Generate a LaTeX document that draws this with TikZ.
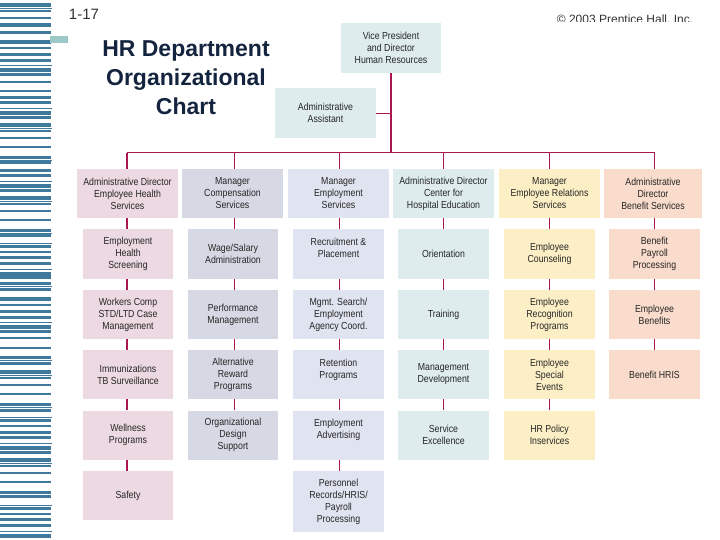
\documentclass[tikz,border=0pt]{standalone}
\usepackage{fontspec}
\setmainfont{Liberation Sans}
\newfontfamily\labfont[FakeStretch=0.86]{Liberation Sans}
\definecolor{barcol}{HTML}{3F7A9C}
\definecolor{tealtab}{HTML}{9CC8C8}
\definecolor{linecol}{HTML}{A8174F}
\definecolor{titlecol}{HTML}{14243F}
\definecolor{fillA}{HTML}{ECD9E1}
\definecolor{fillB}{HTML}{D6D9E4}
\definecolor{fillC}{HTML}{E0E4F0}
\definecolor{fillD}{HTML}{DEECEE}
\definecolor{fillE}{HTML}{FDEFC5}
\definecolor{fillF}{HTML}{F9DCCB}
\tikzset{
  bx/.style={inner sep=0pt,align=center,font=\labfont\fontsize{10.2}{12}\selectfont,text=black!85},
  headbox/.style={bx,minimum width=101,minimum height=49},
  childbox/.style={bx,minimum width=91,minimum height=49},
  cA/.style={fill=fillA},cB/.style={fill=fillB},cC/.style={fill=fillC},
  cD/.style={fill=fillD},cE/.style={fill=fillE},cF/.style={fill=fillF},
  thickline/.style={draw=linecol,line width=2pt},
  thinline/.style={draw=linecol,line width=1pt},
  bar/.style={fill=barcol,draw=none},
  thinbar/.style={draw=barcol,line width=0.9pt}
}
\begin{document}
\begin{tikzpicture}[x=1pt,y=-1pt]
\useasboundingbox (0,0) rectangle (720,540);
% left strip of bars
\foreach \a/\b in {3/7,10/12,17/19,23/27,31/34,40/44,47/49,53/56,59/62,68/72,73/76,81/83,90/92,96/99,101/104,111/115,116/119,123/127,130/132,137/139,146/148,156/159,161/164,169/172,174/177,184/188,189/192,196/200,203/205,210/212,219/221,229/232,233/237,245/248,251/253,256/259,262/265,272/279,282/285,288/291,297/301,304/306,310/313,316/319,325/329,330/333,337/339,347/349,356/359,362/365,370/374,377/379,384/386,393/395,403/406,409/412,419/422,425/427,431/434,436/439,446/450,451/454,458/462,465/467,472/474,481/483,491/494,495/498,507/510,513/515,518/521,524/527,534/538}
  \fill[bar] (0,\a) rectangle (51,\b);
\foreach \a in {8,65,108,128,160,181,201,233,243,269,286,322,360,375,407,417,443,463,505,531}
  \draw[thinbar] (0,\a) -- (52,\a);
\fill[tealtab] (50,36) rectangle (68,43);
% headings
\node[anchor=center,inner sep=0pt,font=\fontsize{15}{15}\selectfont,text=black!80] (pg) at (84,14) {1-17};
\node[inner sep=0pt,align=center,font=\bfseries\fontsize{23}{29}\selectfont,text=titlecol] (title) at (186,77.5) {HR Department\\Organizational\\Chart};
\begin{scope}
  \clip (540,0) rectangle (720,21.5);
  \node[inner sep=0pt,anchor=center,font=\fontsize{12}{14}\selectfont,text=black!80] (copy) at (625,20) {© 2003 Prentice Hall, Inc.};
\end{scope}
% top
\node[bx,cD,minimum width=100,minimum height=50] (vp) at (391,48) {Vice President\\and Director\\Human Resources};
\node[bx,cD,minimum width=101,minimum height=50] (asst) at (325.5,113) {Administrative\\Assistant};
% heads
\node[headbox,cA] (h1) at (127.5,193.5) {Administrative Director\\Employee Health\\Services};
\node[headbox,cB] (h2) at (232.5,193.5) {Manager\\Compensation\\Services};
\node[headbox,cC] (h3) at (338.5,193.5) {Manager\\Employment\\Services};
\node[headbox,cD] (h4) at (443.5,193.5) {Administrative Director\\Center for\\Hospital Education};
\node[headbox,cE] (h5) at (549.5,193.5) {Manager\\Employee Relations\\Services};
\node[headbox,cF,minimum width=98] (h6) at (653,193.5) {Administrative\\Director\\Benefit Services};
% column 1
\node[childbox,cA,minimum width=90,minimum height=50] (a1) at (128,254) {Employment\\Health\\Screening};
\node[childbox,cA,minimum width=90] (a2) at (128,314.5) {Workers Comp\\STD/LTD Case\\Management};
\node[childbox,cA,minimum width=90] (a3) at (128,374.5) {Immunizations\\TB Surveillance};
\node[childbox,cA,minimum width=90] (a4) at (128,435) {Wellness\\Programs};
\node[childbox,cA,minimum width=90] (a5) at (128,495.5) {Safety};
% column 2
\node[childbox,cB,minimum width=90,minimum height=50] (b1) at (233,254) {Wage/Salary\\Administration};
\node[childbox,cB,minimum width=90] (b2) at (233,314.5) {Performance\\Management};
\node[childbox,cB,minimum width=90] (b3) at (233,374.5) {Alternative\\Reward\\Programs};
\node[childbox,cB,minimum width=90] (b4) at (233,435) {Organizational\\Design\\Support};
% column 3
\node[childbox,cC,minimum height=50] (c1) at (338.5,254) {Recruitment \&\\Placement\\\mbox{}};
\node[childbox,cC] (c2) at (338.5,314.5) {Mgmt. Search/\\Employment\\Agency Coord.};
\node[childbox,cC] (c3) at (338.5,374.5) {Retention\\Programs\\\mbox{}};
\node[childbox,cC] (c4) at (338.5,435) {Employment\\Advertising\\\mbox{}};
\node[childbox,cC,minimum height=61] (c5) at (338.5,501.5) {Personnel\\Records/HRIS/\\Payroll\\Processing};
% column 4
\node[childbox,cD,minimum height=50] (d1) at (443.5,254) {Orientation};
\node[childbox,cD] (d2) at (443.5,314.5) {Training};
\node[childbox,cD] (d3) at (443.5,374.5) {Management\\Development};
\node[childbox,cD] (d4) at (443.5,435) {Service\\Excellence};
% column 5
\node[childbox,cE,minimum height=50] (e1) at (549.5,254) {Employee\\Counseling};
\node[childbox,cE] (e2) at (549.5,314.5) {Employee\\Recognition\\Programs};
\node[childbox,cE] (e3) at (549.5,374.5) {Employee\\Special\\Events};
\node[childbox,cE] (e4) at (549.5,435) {HR Policy\\Inservices};
% column 6
\node[childbox,cF,minimum height=50] (f1) at (654.5,254) {Benefit\\Payroll\\Processing};
\node[childbox,cF] (f2) at (654.5,314.5) {Employee\\Benefits};
\node[childbox,cF] (f3) at (654.5,374.5) {Benefit HRIS};
% connector guides
\coordinate (trunk) at (391,153);
\coordinate (x1) at (127,153);
\coordinate (x2) at (234.5,153);
\coordinate (x3) at (339.5,153);
\coordinate (x4) at (443.5,153);
\coordinate (x5) at (549.5,153);
\coordinate (x6) at (654.5,153);
\coordinate (asstline) at (376,114);
% trunk and bus
\draw[thickline] (vp.south -| trunk) -- (trunk);
\draw[thinline] (asstline) -- (asstline -| trunk);
\draw[thinline] (x1) -- (x6);
\draw[thickline] (x1) -- (x1 |- h1.north);
\foreach \n in {2,3,4,5,6} \draw[thinline] (x\n) -- (x\n |- h\n.north);
% drops
\draw[thickline] (x1 |- h1.south) -- (x1 |- a1.north);
\foreach \p/\q in {a1/a2,a2/a3,a3/a4,a4/a5} \draw[thickline] (x1 |- \p.south) -- (x1 |- \q.north);
\foreach \p/\q in {h2/b1,b1/b2,b2/b3,b3/b4} \draw[thinline] (x2 |- \p.south) -- (x2 |- \q.north);
\foreach \p/\q in {h3/c1,c1/c2,c2/c3,c3/c4,c4/c5} \draw[thinline] (x3 |- \p.south) -- (x3 |- \q.north);
\foreach \p/\q in {h4/d1,d1/d2,d2/d3,d3/d4} \draw[thinline] (x4 |- \p.south) -- (x4 |- \q.north);
\foreach \p/\q in {h5/e1,e1/e2,e2/e3,e3/e4} \draw[thinline] (x5 |- \p.south) -- (x5 |- \q.north);
\foreach \p/\q in {h6/f1,f1/f2,f2/f3} \draw[thinline] (x6 |- \p.south) -- (x6 |- \q.north);
\end{tikzpicture}
\end{document}
